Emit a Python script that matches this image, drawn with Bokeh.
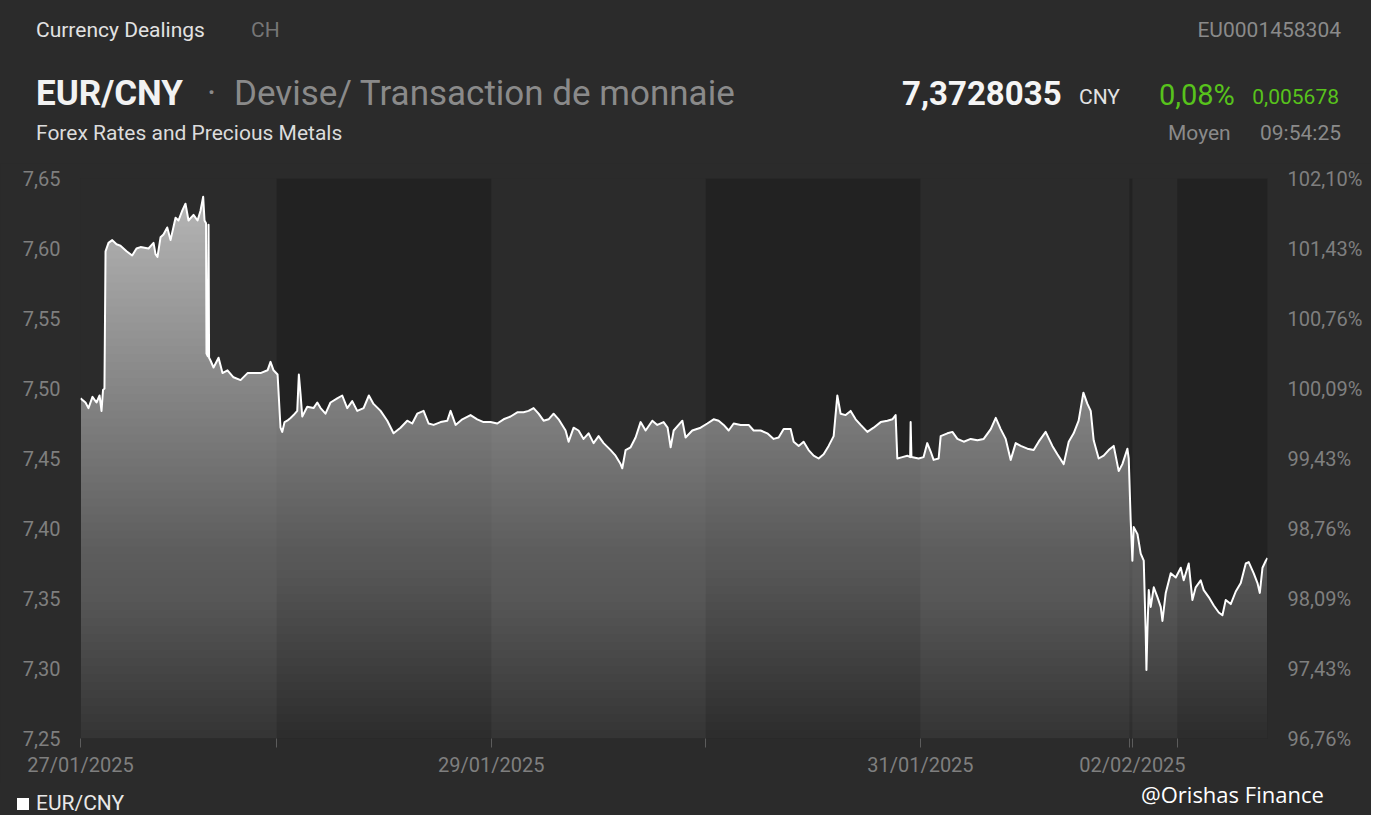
import numpy as np
from bokeh.plotting import figure
from bokeh.layouts import column
from bokeh.models import (Range1d, LinearAxis, FixedTicker, BoxAnnotation, Div)
from bokeh.embed import file_html
from bokeh.resources import INLINE

# ---- data: session hours since 27/01/2025 00:00 (weekend compressed) and EUR/CNY rate
hours = [
    2.07, 2.63, 2.96, 3.41, 3.86, 4.20, 4.42, 4.59, 4.75, 4.87,
    5.20, 5.62, 6.10, 6.54, 7.22, 7.85, 8.33, 8.78, 9.68, 10.24,
    10.46, 10.68, 11.02, 11.35, 11.77, 12.14, 12.70, 13.03, 13.45, 13.81,
    14.15, 14.71, 15.16, 15.49, 15.79, 15.94, 16.11, 16.16, 16.31, 16.39,
    16.45, 16.61, 16.95, 17.51, 17.95, 18.51, 19.18, 19.97, 20.75, 21.42,
    22.20, 22.99, 23.32, 23.66, 24.11, 24.44, 24.63, 24.89, 25.19, 25.56,
    25.90, 26.31, 26.49, 26.68, 26.87, 27.43, 28.13, 28.55, 28.92, 29.47,
    30.03, 30.78, 31.34, 31.90, 32.46, 33.02, 33.73, 34.32, 34.84, 35.63,
    36.38, 37.08, 37.86, 38.61, 39.17, 39.73, 40.44, 41.00, 41.56, 42.34,
    43.09, 43.46, 44.02, 44.77, 45.69, 46.44, 47.15, 47.93, 48.68, 49.39,
    50.17, 50.92, 51.62, 52.18, 52.74, 53.30, 53.86, 54.42, 54.98, 55.54,
    56.32, 56.66, 57.22, 57.77, 58.33, 58.89, 59.45, 60.01, 60.57, 61.36,
    61.91, 62.47, 62.66, 63.03, 63.59, 64.15, 64.71, 65.27, 66.02, 66.58,
    67.28, 67.73, 68.07, 68.41, 68.96, 69.38, 69.74, 70.49, 71.42, 72.17,
    72.88, 73.44, 74.00, 74.56, 75.12, 75.90, 76.80, 77.35, 78.13, 78.88,
    79.59, 80.15, 80.71, 81.49, 81.83, 82.39, 82.94, 83.50, 84.06, 84.62,
    85.18, 85.74, 86.30, 86.71, 87.08, 87.64, 88.20, 88.76, 89.32, 90.07,
    90.77, 91.56, 92.31, 92.87, 93.23, 93.42, 93.98, 94.54, 94.86, 94.91,
    95.00, 95.80, 96.36, 96.77, 97.15, 97.48, 98.04, 98.27, 99.02, 99.58,
    100.14, 100.85, 101.63, 102.38, 103.08, 103.87, 104.43, 104.98, 105.54, 106.10,
    106.66, 107.22, 107.97, 108.67, 109.23, 110.01, 110.76, 111.32, 112.03, 112.59,
    113.14, 113.70, 114.23, 114.68, 115.05, 115.38, 115.94, 116.50, 117.06, 117.62,
    118.18, 118.59, 119.15, 119.30, 119.52, 119.71, 119.86, 120.28, 120.64, 120.98,
    121.20, 121.28, 121.39, 121.54, 121.76, 122.10, 122.51, 122.88, 123.07, 123.44,
    124.00, 124.56, 125.12, 125.45, 126.01, 126.42, 126.79, 127.35, 127.69, 128.25,
    128.81, 129.37, 129.78, 130.15, 130.71, 131.27, 131.83, 132.39, 132.72, 133.28,
    133.70, 133.96, 134.26, 134.63, 134.82,
]
rate = [
    7.493, 7.490, 7.486, 7.494, 7.490, 7.495, 7.484, 7.499, 7.500, 7.598,
    7.604, 7.606, 7.603, 7.602, 7.598, 7.595, 7.600, 7.601, 7.600, 7.604,
    7.596, 7.594, 7.608, 7.610, 7.615, 7.606, 7.622, 7.620, 7.627, 7.632,
    7.620, 7.624, 7.620, 7.627, 7.637, 7.620, 7.618, 7.525, 7.523, 7.617,
    7.522, 7.520, 7.515, 7.522, 7.511, 7.513, 7.508, 7.506, 7.511, 7.511,
    7.511, 7.513, 7.519, 7.513, 7.510, 7.472, 7.469, 7.476, 7.477, 7.479,
    7.481, 7.484, 7.510, 7.496, 7.480, 7.487, 7.486, 7.490, 7.486, 7.482,
    7.490, 7.493, 7.495, 7.486, 7.491, 7.484, 7.486, 7.495, 7.489, 7.484,
    7.477, 7.468, 7.472, 7.477, 7.475, 7.482, 7.484, 7.475, 7.474, 7.476,
    7.477, 7.484, 7.474, 7.478, 7.481, 7.478, 7.476, 7.476, 7.475, 7.478,
    7.480, 7.483, 7.483, 7.484, 7.486, 7.482, 7.477, 7.478, 7.482, 7.478,
    7.470, 7.462, 7.472, 7.470, 7.464, 7.468, 7.461, 7.466, 7.461, 7.456,
    7.452, 7.446, 7.443, 7.456, 7.458, 7.465, 7.476, 7.470, 7.477, 7.474,
    7.476, 7.472, 7.458, 7.470, 7.474, 7.477, 7.465, 7.470, 7.472, 7.475,
    7.478, 7.477, 7.474, 7.470, 7.475, 7.474, 7.474, 7.470, 7.470, 7.468,
    7.464, 7.465, 7.471, 7.471, 7.462, 7.459, 7.462, 7.456, 7.452, 7.450,
    7.453, 7.459, 7.466, 7.495, 7.482, 7.481, 7.484, 7.478, 7.474, 7.469,
    7.472, 7.476, 7.477, 7.478, 7.481, 7.450, 7.451, 7.452, 7.451, 7.476,
    7.451, 7.450, 7.451, 7.461, 7.455, 7.449, 7.450, 7.466, 7.468, 7.469,
    7.464, 7.462, 7.464, 7.463, 7.464, 7.471, 7.479, 7.471, 7.464, 7.449,
    7.461, 7.459, 7.457, 7.456, 7.462, 7.469, 7.459, 7.453, 7.446, 7.462,
    7.468, 7.477, 7.497, 7.489, 7.484, 7.463, 7.450, 7.452, 7.456, 7.459,
    7.441, 7.446, 7.457, 7.450, 7.406, 7.377, 7.401, 7.396, 7.382, 7.377,
    7.325, 7.299, 7.327, 7.356, 7.344, 7.358, 7.351, 7.344, 7.334, 7.354,
    7.368, 7.365, 7.372, 7.363, 7.375, 7.349, 7.358, 7.363, 7.356, 7.351,
    7.345, 7.340, 7.338, 7.349, 7.346, 7.355, 7.361, 7.375, 7.376, 7.368,
    7.361, 7.354, 7.372, 7.377, 7.379,
]

# session boundaries (same compressed hour units) and labels
day_ticks = [2.07, 24.0, 48.0, 72.0, 96.0, 119.38, 119.71, 124.74]
day_labels = ["27/01/2025", "", "29/01/2025", "", "31/01/2025", "", "02/02/2025", ""]
dark_sessions = [(24.0, 48.0), (72.0, 96.0), (119.38, 119.71), (124.74, 134.82)]

y_ticks = [7.25, 7.30, 7.35, 7.40, 7.45, 7.50, 7.55, 7.60, 7.65]
y_labels = ["7,25", "7,30", "7,35", "7,40", "7,45", "7,50", "7,55", "7,60", "7,65"]
pct_labels = ["96,76%", "97,43%", "98,09%", "98,76%", "99,43%", "100,09%",
              "100,76%", "101,43%", "102,10%"]

BG = "#2b2b2b"
DARK = "#222222"
GRAY = "#8a8a8a"
AX = "#7f7f7f"
GREEN = "#58c31c"
FONT = "Roboto"
W = 1371
HEAD_H = 163          # header block
TOP_PAD = 15          # chart frame starts at y = 178
FRAME_H = 560
BOT_PAD = 45
CH_H = TOP_PAD + FRAME_H + BOT_PAD
FOOT_H = 815 - HEAD_H - CH_H

ASC = {"Roboto": 0.842, "Open Sans": 0.888}   # baseline offset for line-height:1


def span(s, x, base, size, color, bold=False, right=False, font="Roboto", y0=0):
    top = base - y0 - ASC[font] * size
    pos = f"right:{W - x}px;" if right else f"left:{x}px;"
    return (f'<span style="position:absolute;{pos}top:{top:.1f}px;font-family:\'{font}\';'
            f'font-size:{size}px;line-height:1;white-space:nowrap;color:{color};'
            f'font-weight:{"700" if bold else "400"};">{s}</span>')


def box(inner, h):
    return (f'<div style="position:relative;width:{W}px;height:{h}px;background:{BG};'
            f'overflow:visible;">{inner}</div>')


header_html = box("".join([
    span("Currency Dealings", 36, 38, 21, "#e2e2e2"),
    span("CH", 251, 38, 21, "#767676"),
    span("EU0001458304", 1341, 38, 21, GRAY, right=True),
    span("EUR/CNY", 36, 105, 35, "#f2f2f2", bold=True),
    span("&middot;", 207, 105, 35, GRAY),
    span("Devise/ Transaction de monnaie", 234, 105, 35, GRAY),
    span("7,3728035", 902, 105, 33, "#f5f5f5", bold=True),
    span("CNY", 1079, 105, 21, "#e2e2e2"),
    span("0,08%", 1159, 105, 29, GREEN),
    span("0,005678", 1339, 105, 21, GREEN, right=True),
    span("Forex Rates and Precious Metals", 36, 141, 21, "#dcdcdc"),
    span("Moyen", 1168, 141, 21, GRAY),
    span("09:54:25", 1341, 141, 21, GRAY, right=True),
]), HEAD_H)
head = Div(text=header_html, width=W, height=HEAD_H, margin=0,
           styles={"background-color": BG})

# ------------------------------------------------------------------ chart
p = figure(width=W, height=CH_H,
           x_range=Range1d(hours[0], hours[-1]), y_range=Range1d(7.25, 7.65),
           output_backend="svg", toolbar_location=None,
           min_border_left=80, min_border_right=104, min_border_top=TOP_PAD,
           min_border_bottom=BOT_PAD,
           background_fill_color=BG, border_fill_color=BG, outline_line_color=None,
           styles={"background-color": BG})
p.grid.visible = False

for a, b in dark_sessions:
    p.add_layout(BoxAnnotation(left=a, right=b, fill_color=DARK, fill_alpha=1.0,
                               line_color=None, level="underlay"))

# vertical white gradient under the line (stacked translucent layers, 8 px each)
h = np.array(hours)
r = np.array(rate)
N = 70
lv = np.linspace(7.25, 7.65, N + 1)[:-1]
A = 0.05 + (lv - 7.25) / 0.4 * 0.70
T = 1 - A
alphas = [A[0]] + [1 - T[k] / T[k - 1] for k in range(1, N)]
for k in range(N):
    p.varea(x=h, y1=lv[k], y2=np.maximum(r, lv[k]), fill_color="white",
            fill_alpha=float(alphas[k]))

line = p.line(h, r, line_color="white", line_width=2, line_join="round")

xa = p.xaxis[0]
xa.ticker = FixedTicker(ticks=day_ticks)
xa.major_label_overrides = dict(zip(day_ticks, day_labels))
xa.axis_line_color = None
xa.major_tick_line_color = "#5c5c5c"
xa.major_tick_out = 9
xa.major_tick_in = 0
xa.minor_tick_line_color = None
xa.major_label_standoff = 5
xa.major_label_text_font = FONT
xa.major_label_text_font_size = "20px"
xa.major_label_text_color = AX

ya = p.yaxis[0]
ya.ticker = FixedTicker(ticks=y_ticks)
ya.major_label_overrides = dict(zip(y_ticks, y_labels))
ya.axis_line_color = None
ya.major_tick_line_color = None
ya.minor_tick_line_color = None
ya.major_label_standoff = 14
ya.major_label_text_font = FONT
ya.major_label_text_font_size = "20px"
ya.major_label_text_color = AX

ra = LinearAxis(ticker=FixedTicker(ticks=y_ticks),
                major_label_overrides=dict(zip(y_ticks, pct_labels)),
                axis_line_color=None, major_tick_line_color=None, minor_tick_line_color=None,
                major_label_standoff=14, major_label_text_font=FONT,
                major_label_text_font_size="20px", major_label_text_color=AX)
p.add_layout(ra, "right")

# ------------------------------------------------------------------ footer (legend + credit)
F0 = HEAD_H + CH_H
footer_html = box("".join([
    f'<span style="position:absolute;left:17px;top:{798 - F0}px;width:12px;height:12px;'
    f'background:#ffffff;"></span>',
    span("EUR/CNY", 36, 811, 21, "#e8e8e8", y0=F0),
    span("@Orishas Finance", 1141, 802, 22, "#ffffff", font="Open Sans", y0=F0),
]), FOOT_H)
foot = Div(text=footer_html, width=W, height=FOOT_H, margin=0,
           styles={"background-color": BG})

layout = column(head, p, foot, spacing=0, styles={"background-color": BG})
open("out.html", "w").write(file_html(layout, INLINE))
